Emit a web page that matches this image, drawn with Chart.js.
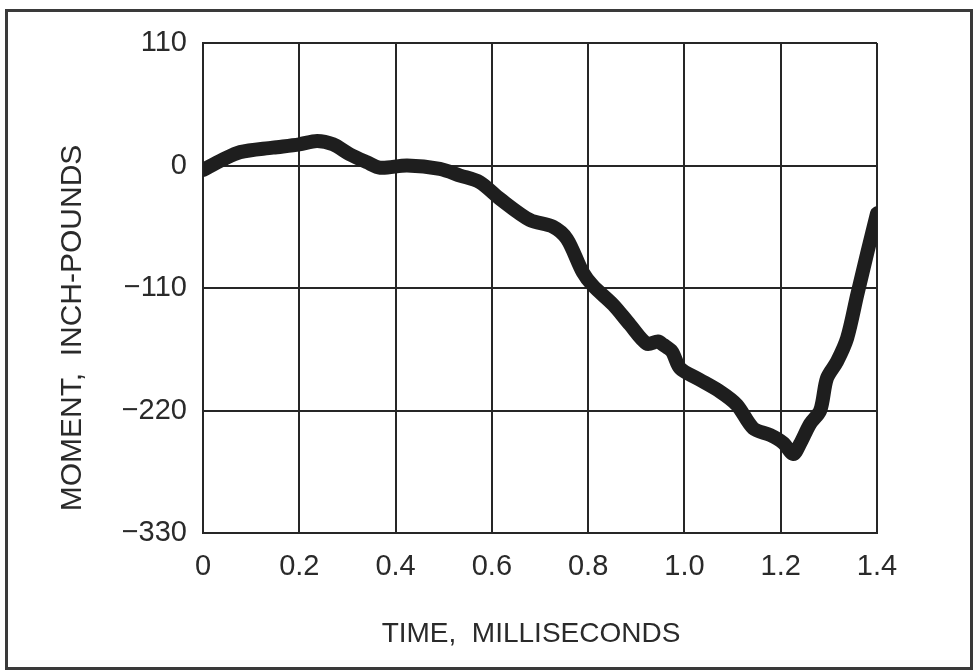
<!DOCTYPE html>
<html>
<head>
<meta charset="utf-8">
<script src="https://cdn.jsdelivr.net/npm/chart.js@4"></script>
<style>
  html, body { margin: 0; padding: 0; background: #fff; }
  #wrap { width: 975px; height: 671px; position: relative; }
</style>
</head>
<body>
<div id="wrap"><canvas id="moment"></canvas></div>
<script>
// time in milliseconds, moment in inch-pounds
const time = [0, 0.04, 0.077, 0.145, 0.2, 0.237, 0.27, 0.305, 0.34, 0.368, 0.424, 0.492, 0.534, 0.575,
  0.617, 0.679, 0.727, 0.756, 0.789, 0.81, 0.852, 0.887, 0.922, 0.945, 0.956, 0.974, 0.991, 1.026,
  1.074, 1.109, 1.143, 1.178, 1.205, 1.226, 1.24, 1.261, 1.282, 1.296, 1.317, 1.338, 1.359, 1.38, 1.4];
const moment = [-4, 5, 12, 16, 19, 22, 19, 10, 3, -2, 0, -3, -9, -15,
  -30, -49, -55, -66, -96, -108, -125, -143, -160, -158, -161, -167, -182, -191,
  -203, -215, -236, -242, -249, -259, -250, -232, -220, -191, -176, -155, -116, -78, -43];

const xTicks = [0, 0.2, 0.4, 0.6, 0.8, 1.0, 1.2, 1.4];
const xTickLabels = ['0', '0.2', '0.4', '0.6', '0.8', '1.0', '1.2', '1.4'];
const yTicks = [110, 0, -110, -220, -330];
const yTickLabels = ['110', '0', '\u2212110', '\u2212220', '\u2212330'];

const xTitle = 'TIME,  MILLISECONDS';
const yTitle = 'MOMENT,  INCH-POUNDS';

const ink = '#262626';
const face = "'Liberation Sans', Arial, sans-serif";

// outer box and the two axis titles (they sit off-centre in the original)
const frame = {
  id: 'frame',
  beforeDraw(chart) {
    const ctx = chart.ctx;
    ctx.save();
    ctx.fillStyle = '#fff';
    ctx.fillRect(0, 0, chart.width, chart.height);
    ctx.strokeStyle = '#3a3a3a';
    ctx.lineWidth = 3;
    ctx.strokeRect(6.5, 10.5, 965, 658);
    ctx.restore();
  },
  afterDraw(chart) {
    const ctx = chart.ctx;
    ctx.save();
    ctx.fillStyle = '#2a2a2a';
    ctx.textAlign = 'center';
    ctx.textBaseline = 'middle';
    ctx.font = "28px " + face;
    ctx.fillText(xTitle, 531, 634);
    ctx.translate(73, 328);
    ctx.rotate(-Math.PI / 2);
    ctx.font = "30px " + face;
    ctx.fillText(yTitle, 0, 0);
    ctx.restore();
  }
};

new Chart(document.getElementById('moment'), {
  type: 'line',
  data: {
    datasets: [{
      data: time.map((t, i) => ({ x: t, y: moment[i] })),
      borderColor: '#1e1e1e',
      borderWidth: 14,
      borderCapStyle: 'round',
      borderJoinStyle: 'round',
      tension: 0.3,
      pointRadius: 0,
      fill: false
    }]
  },
  plugins: [frame],
  options: {
    responsive: true,
    maintainAspectRatio: false,
    animation: false,
    layout: { padding: { left: 0, top: 43, right: 98, bottom: 0 } },
    plugins: { legend: { display: false }, tooltip: { enabled: false } },
    scales: {
      x: {
        type: 'linear',
        min: 0,
        max: 1.4,
        afterBuildTicks: s => { s.ticks = xTicks.map(v => ({ value: v })); },
        afterFit: s => { s.height = 138; },
        grid: { color: ink, lineWidth: 2, drawTicks: false },
        border: { color: ink, width: 2 },
        ticks: {
          color: '#2a2a2a',
          padding: 17,
          maxRotation: 0,
          font: { family: face, size: 29 },
          callback: (v, i) => xTickLabels[i]
        }
      },
      y: {
        min: -330,
        max: 110,
        afterBuildTicks: s => { s.ticks = yTicks.map(v => ({ value: v })); },
        afterFit: s => { s.width = 203; },
        grid: { color: ink, lineWidth: 2, drawTicks: false },
        border: { color: ink, width: 2 },
        ticks: {
          color: '#2a2a2a',
          padding: 16,
          font: { family: face, size: 29 },
          callback: (v, i) => yTickLabels[i]
        }
      }
    }
  }
});
</script>
</body>
</html>
